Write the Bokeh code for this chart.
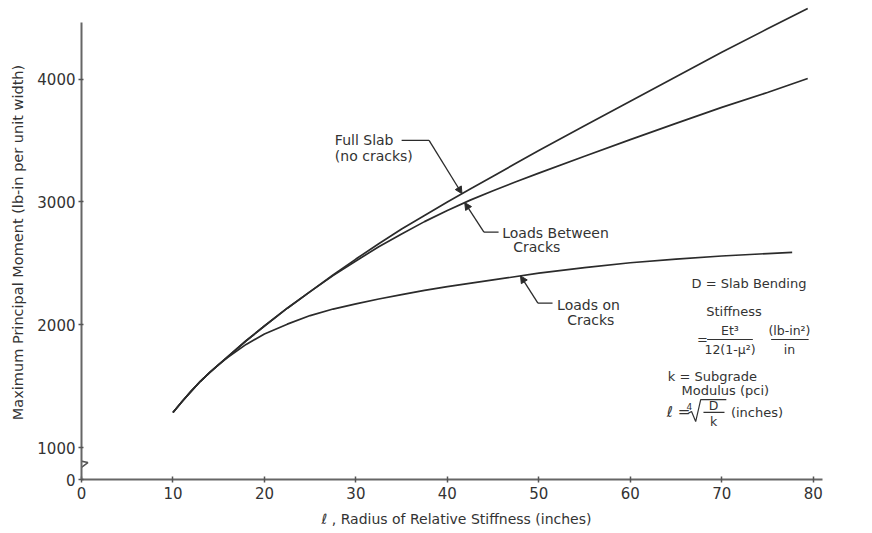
import numpy as np
from bokeh.plotting import figure
from bokeh.models import Range1d, FixedTicker, Arrow, NormalHead
from bokeh.core.properties import value
from bokeh.embed import file_html
from bokeh.resources import INLINE

# ---- data ----
radius_full = [10, 11, 12, 13, 14, 15, 16, 18, 20, 22.5, 25, 27.5, 30, 32.5, 35, 37.5,
               40, 42.5, 45, 47.5, 50, 55, 60, 65, 70, 75, 79.4]
moment_full_slab = [1285, 1375, 1460, 1540, 1610, 1675, 1740, 1870, 1990, 2135, 2270, 2405,
                    2535, 2660, 2780, 2890, 3000, 3105, 3210, 3315, 3420, 3620, 3820, 4020,
                    4220, 4410, 4575]
moment_between = [1285, 1375, 1460, 1540, 1610, 1675, 1740, 1870, 1990, 2135, 2270, 2400,
                  2520, 2635, 2740, 2840, 2930, 3015, 3092, 3165, 3235, 3372, 3508, 3640,
                  3770, 3892, 4005]
radius_cracks = [10, 11, 12, 13, 14, 15, 16, 18, 20, 22.5, 25, 27.5, 30, 32.5, 35, 37.5,
                 40, 45, 50, 55, 60, 65, 70, 75, 77.7]
moment_on_cracks = [1285, 1375, 1460, 1540, 1610, 1675, 1735, 1840, 1925, 2005, 2075, 2128,
                    2170, 2210, 2245, 2280, 2310, 2365, 2420, 2465, 2505, 2535, 2560, 2580, 2590]

x_ticks = [0, 10, 20, 30, 40, 50, 60, 70, 80]
y_break_base = 740          # value drawn where the broken axis shows "0"
y_ticks = [y_break_base, 1000, 2000, 3000, 4000]
y_tick_labels = ["0", "1000", "2000", "3000", "4000"]

FONT = value("DejaVu Sans")
INK = "#2b2b2b"
TXT = "#333333"

p = figure(frame_width=750, frame_height=474,
           x_range=Range1d(0, 82), y_range=Range1d(y_break_base, 4600),
           output_backend="svg", toolbar_location=None,
           min_border_left=81, min_border_right=41, min_border_top=5, min_border_bottom=54)
p.background_fill_color = "white"
p.border_fill_color = "white"
p.outline_line_color = None
p.xgrid.grid_line_color = None
p.ygrid.grid_line_color = None

# axes
p.xaxis.ticker = FixedTicker(ticks=x_ticks)
p.xaxis.bounds = (0, 81)
p.yaxis.ticker = FixedTicker(ticks=y_ticks)
p.yaxis.major_label_overrides = {t: l for t, l in zip(y_ticks, y_tick_labels)}
p.yaxis.bounds = (y_break_base, 4460)
for ax in (p.xaxis, p.yaxis):
    ax.axis_line_color = "#666666"
    ax.axis_line_width = 2
    ax.major_tick_line_color = "#555555"
    ax.major_tick_line_width = 1.5
    ax.minor_tick_line_color = None
    ax.major_label_text_font = "DejaVu Sans"
    ax.major_label_text_font_size = "15px"
    ax.major_label_text_color = TXT
    ax.axis_label_text_font = "DejaVu Sans"
    ax.axis_label_text_font_style = "normal"
    ax.axis_label_text_color = TXT
p.xaxis.major_tick_in = 3
p.xaxis.major_tick_out = 3
p.yaxis.major_tick_in = 2
p.yaxis.major_tick_out = 3
p.xaxis.major_label_standoff = 4
p.yaxis.major_label_standoff = 3
p.xaxis.axis_label = "\u2113 , Radius of Relative Stiffness (inches)"
p.xaxis.axis_label_text_font_size = "14px"
p.xaxis.axis_label_standoff = 9
p.yaxis.axis_label = "Maximum Principal Moment (lb-in per unit width)"
p.yaxis.axis_label_text_font_size = "14.5px"
p.yaxis.axis_label_standoff = 8

# break mark on the y axis
p.line([0, -0.4, 0.7, 0], [952, 895, 878, 838], line_color="#555555", line_width=1.5)

# curves
p.line(radius_full, moment_full_slab, line_color=INK, line_width=1.7)
p.line(radius_full, moment_between, line_color=INK, line_width=1.7)
p.line(radius_cracks, moment_on_cracks, line_color=INK, line_width=1.7)

# leaders with arrows pointing at the curves
def leader(text_end, bend, tip_x, xs, ys):
    tip_y = float(np.interp(tip_x, xs, ys))
    p.line([text_end[0], bend[0]], [text_end[1], bend[1]], line_color=INK, line_width=1.3)
    p.add_layout(Arrow(x_start=bend[0], y_start=bend[1], x_end=tip_x, y_end=tip_y,
                       line_color=INK, line_width=1.3,
                       end=NormalHead(size=7, fill_color=INK, line_color=INK)))

leader((35.0, 3502), (38.0, 3502), 41.6, radius_full, moment_full_slab)
leader((45.6, 2755), (44.0, 2755), 41.9, radius_full, moment_between)
leader((51.5, 2176), (49.9, 2176), 48.0, radius_cracks, moment_on_cracks)

ann_text = ["Full Slab", "(no cracks)", "Loads Between", "Cracks", "Loads on", "Cracks"]
ann_x = [27.7, 27.7, 46.0, 47.2, 52.0, 53.1]
ann_y = [3502, 3372, 2748, 2630, 2163, 2035]
p.text(ann_x, ann_y, text=ann_text, text_font=FONT, text_font_size="14px",
       text_color=TXT, text_baseline="middle", text_align="left")

blk_text = ["D = Slab Bending", "Stiffness", "=", "k = Subgrade", "Modulus (pci)", "(inches)"]
blk_x = [66.7, 68.3, 67.3, 64.1, 65.6, 71.0]
blk_y = [2336, 2108, 1878, 1579, 1465, 1286]
p.text(blk_x, blk_y, text=blk_text, text_font=FONT, text_font_size="13px",
       text_color=TXT, text_baseline="middle", text_align="left")
p.text([64.0], [1290], text=["\u2113 ="], text_font=FONT, text_font_size="15px",
       text_color=TXT, text_baseline="middle", text_align="left")

# fractions in the definition block (centered)
frac_text = ["Et\u00b3", "12(1-\u03bc\u00b2)", "(lb-in\u00b2)", "in", "D", "k"]
frac_x = [70.9, 70.9, 77.4, 77.4, 69.1, 69.1]
frac_y = [1953, 1799, 1953, 1799, 1345, 1212]
p.text(frac_x, frac_y, text=frac_text, text_font=FONT, text_font_size="12.5px",
       text_color=TXT, text_baseline="middle", text_align="center")
p.text([66.45], [1338], text=["4"], text_font=FONT, text_font_size="9px",
       text_color=TXT, text_baseline="middle", text_align="center")
p.multi_line([[68.4, 73.4], [75.4, 79.5], [68.0, 70.3],
              [66.3, 66.7, 67.15, 67.7, 70.5]],
             [[1880, 1880], [1880, 1880], [1286, 1286],
              [1277, 1294, 1212, 1391, 1391]],
             line_color=TXT, line_width=1.2)

open("out.html", "w").write(file_html(p, INLINE))
